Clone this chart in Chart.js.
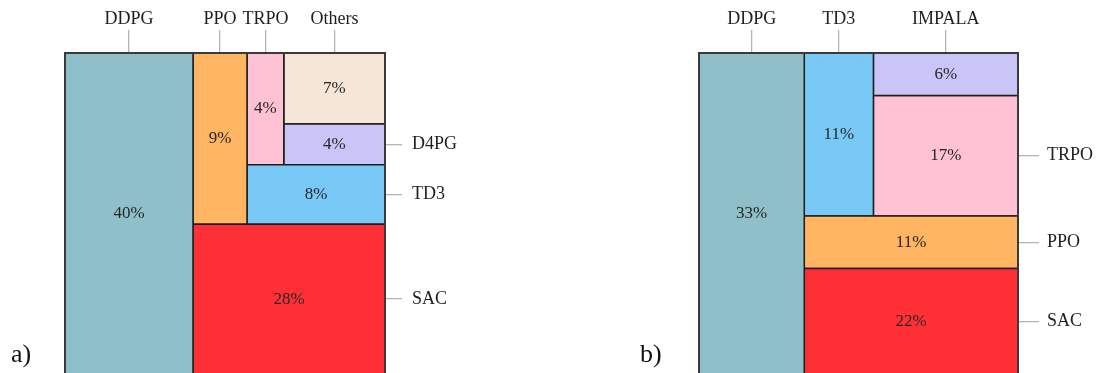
<!DOCTYPE html>
<html>
<head>
<meta charset="utf-8">
<script src="https://cdn.jsdelivr.net/npm/chart.js@4/dist/chart.umd.min.js"></script>
<style>
  body { margin: 0; background: #fff; }
  #wrap { position: relative; width: 1099px; height: 373px; overflow: hidden; }
  .box { position: absolute; top: 0; height: 380px; }
  .tag { position: absolute; font-family: "Liberation Serif", serif; font-size: 26px; color: #111; }
</style>
</head>
<body>
<div id="wrap">
  <div class="box" style="left:0;width:560px"><canvas id="chartA"></canvas></div>
  <div class="box" style="left:560px;width:539px"><canvas id="chartB"></canvas></div>
  <div class="tag" style="left:11px;top:339px">a)</div>
  <div class="tag" style="left:640px;top:339px">b)</div>
</div>
<script>
// panel a
const catA = ["DDPG", "SAC", "PPO", "TD3", "TRPO", "D4PG", "Others"];
const shareA = [40, 28, 9, 8, 4, 4, 7];
const cutA = ["left", "bottom", "left", "bottom", "left", "bottom", "rest"];

// panel b
const catB = ["DDPG", "SAC", "PPO", "TD3", "IMPALA", "TRPO"];
const shareB = [33, 22, 11, 11, 6, 17];
const cutB = ["left", "bottom", "bottom", "left", "top", "rest"];

const algoColors = {
    DDPG: "#8fc0ca",
    SAC: "#ff3035",
    PPO: "#ffb561",
    TD3: "#79c9f6",
    TRPO: "#ffc1d4",
    D4PG: "#c9c5f7",
    IMPALA: "#c9c5f7",
    Others: "#f5e6d8",
};

// slice-and-dice layout in a 0..1 square
function layout(values, cuts) {
    let x0 = 0, x1 = 1, y0 = 0, y1 = 1;
    let left = values.reduce((a, b) => a + b, 0);
    return values.map((v, i) => {
        const f = v / left;
        let r;
        if (cuts[i] === "left") {
            const w = f * (x1 - x0);
            r = { x0: x0, x1: x0 + w, y0: y0, y1: y1 };
            x0 += w;
        } else if (cuts[i] === "bottom") {
            const h = f * (y1 - y0);
            r = { x0: x0, x1: x1, y0: y0, y1: y0 + h };
            y0 += h;
        } else if (cuts[i] === "top") {
            const h = f * (y1 - y0);
            r = { x0: x0, x1: x1, y0: y1 - h, y1: y1 };
            y1 -= h;
        } else {
            r = { x0: x0, x1: x1, y0: y0, y1: y1 };
        }
        left -= v;
        return r;
    });
}

const pctLabels = {
    id: "pctLabels",
    afterDatasetsDraw(chart) {
        const ctx = chart.ctx;
        const xs = chart.scales.x, ys = chart.scales.y;
        const a = chart.chartArea;
        ctx.save();
        ctx.strokeStyle = "#3a3a3a";
        ctx.lineWidth = 2;
        ctx.strokeRect(a.left, a.top, a.right - a.left, a.bottom - a.top);
        ctx.font = "17px 'Liberation Serif'";
        ctx.fillStyle = "#262626";
        ctx.textAlign = "center";
        ctx.textBaseline = "middle";
        chart.data.datasets.forEach((ds) => {
            const r = ds.rect;
            const px = xs.getPixelForValue((r.x0 + r.x1) / 2);
            const py = ys.getPixelForValue((r.y0 + r.y1) / 2);
            ctx.fillText(ds.label.split("|")[1], px, py);
        });
        ctx.restore();
    },
};

function noPad(s) {
    s.paddingTop = 0;
    s.paddingBottom = 0;
    s.paddingLeft = 0;
    s.paddingRight = 0;
}

function makeChart(id, cats, vals, cuts, opts) {
    const rects = layout(vals, cuts);
    const topTicks = [], rightTicks = [];
    rects.forEach((r, i) => {
        if (r.y1 > 0.999) topTicks.push({ v: (r.x0 + r.x1) / 2, name: cats[i] });
        else if (r.x1 > 0.999) rightTicks.push({ v: (r.y0 + r.y1) / 2, name: cats[i] });
    });
    topTicks.sort((a, b) => a.v - b.v);
    rightTicks.sort((a, b) => a.v - b.v);

    const datasets = rects.map((r, i) => ({
        label: cats[i] + "|" + vals[i] + "%",
        rect: r,
        data: [
            { x: r.x0, y: r.y0 }, { x: r.x1, y: r.y0 }, { x: r.x1, y: r.y1 },
            { x: r.x0, y: r.y1 }, { x: r.x0, y: r.y0 },
        ],
        showLine: true,
        fill: "shape",
        backgroundColor: algoColors[cats[i]],
        borderColor: "#1c1c1c",
        borderWidth: 1.5,
        pointRadius: 0,
        clip: false,
    }));

    const tickFont = { family: "Liberation Serif", size: 18 };

    return new Chart(document.getElementById(id), {
        type: "scatter",
        data: { datasets: datasets },
        options: {
            responsive: true,
            maintainAspectRatio: false,
            animation: false,
            layout: { padding: { left: opts.left, bottom: 6, top: 0, right: 0 } },
            plugins: { legend: { display: false }, tooltip: { enabled: false } },
            scales: {
                x: {
                    type: "linear",
                    position: "top",
                    min: 0,
                    max: 1,
                    afterBuildTicks: (s) => { s.ticks = topTicks.map((t) => ({ value: t.v })); },
                    afterFit: (s) => { s.height = 53; noPad(s); },
                    border: { display: false },
                    grid: { drawOnChartArea: false, drawTicks: true, tickLength: 23, color: "#b4b4b4", lineWidth: 1.3 },
                    ticks: {
                        autoSkip: false, maxRotation: 0, minRotation: 0, padding: 0,
                        color: "#1e1e1e", font: tickFont,
                        callback: (v, i) => topTicks[i] ? topTicks[i].name : "",
                    },
                },
                y: {
                    type: "linear",
                    position: "right",
                    min: 0,
                    max: 1,
                    afterBuildTicks: (s) => { s.ticks = rightTicks.map((t) => ({ value: t.v })); },
                    afterFit: (s) => { s.width = opts.right; noPad(s); },
                    border: { display: false },
                    grid: { drawOnChartArea: false, drawTicks: true, tickLength: opts.tick, color: "#b4b4b4", lineWidth: 1.3 },
                    ticks: {
                        autoSkip: false, padding: opts.pad,
                        color: "#1e1e1e", font: tickFont,
                        callback: (v, i) => rightTicks[i] ? rightTicks[i].name : "",
                    },
                },
            },
        },
        plugins: [pctLabels],
    });
}

var chartA = makeChart("chartA", catA, shareA, cutA, { left: 65, right: 175, tick: 17, pad: 10 });
var chartB = makeChart("chartB", catB, shareB, cutB, { left: 139, right: 81, tick: 21, pad: 8 });
</script>
</body>
</html>
